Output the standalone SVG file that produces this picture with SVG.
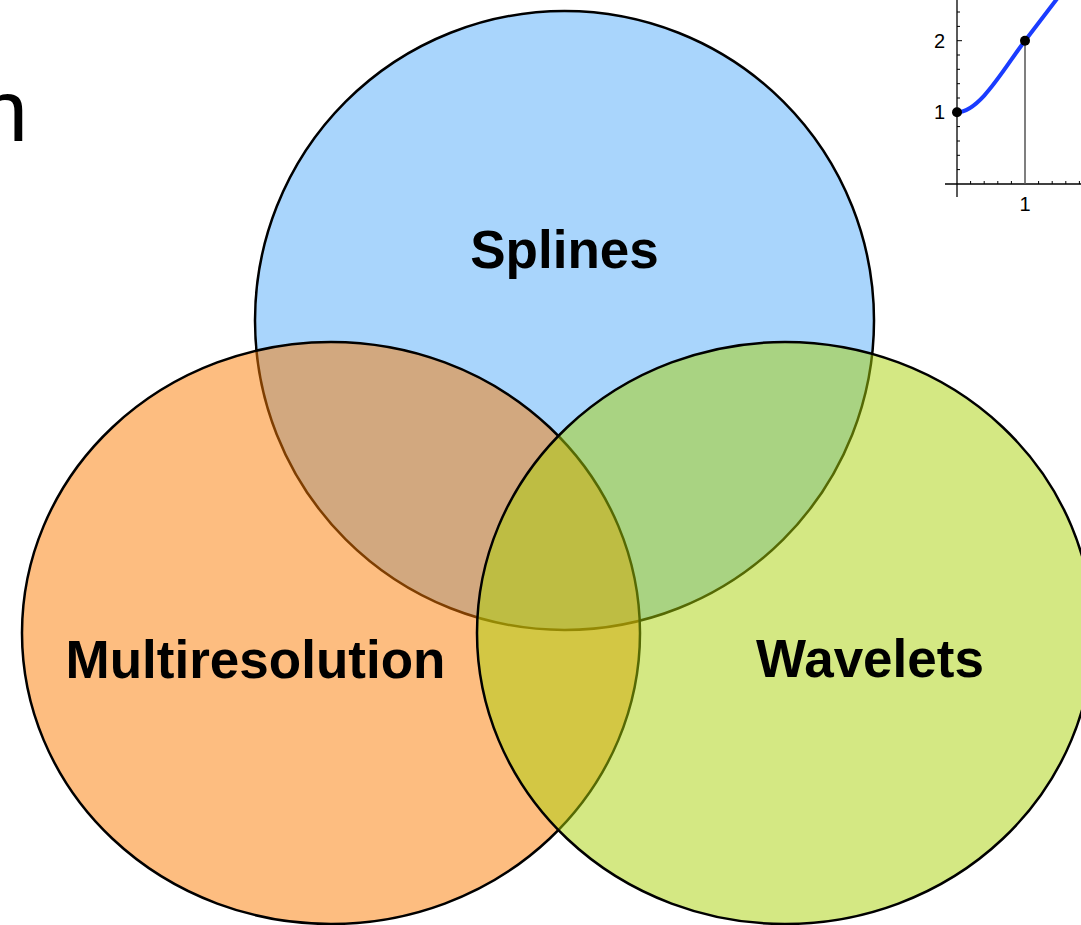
<svg xmlns="http://www.w3.org/2000/svg" width="1081" height="925" viewBox="0 0 1081 925">
  <style>
    .set { stroke: #000; stroke-width: 2.5; fill-opacity: 0.5; }
    .label { font-family: "Liberation Sans", Arial, Helvetica, sans-serif; font-weight: bold; font-size: 53px; fill: #000; text-anchor: middle; }
    .tick { font-family: "Liberation Sans", Arial, Helvetica, sans-serif; font-size: 20px; fill: #000; }
    .axis { stroke: #000; stroke-width: 1.3; fill: none; }
    .minor { stroke: #000; stroke-width: 1; }
  </style>
  <rect width="1081" height="925" fill="#fff"/>
  <text x="28" y="141" font-family="'Liberation Sans', Arial, sans-serif" font-size="88" text-anchor="end" fill="#000">n</text>

  <g id="plot">
    <line class="axis" x1="957" y1="0" x2="957" y2="197"/>
    <line class="axis" x1="945" y1="184" x2="1081" y2="184"/>
    <g class="minor">
      <line x1="957" y1="12" x2="960" y2="12"/>
      <line x1="957" y1="26.4" x2="960" y2="26.4"/>
      <line x1="957" y1="40.7" x2="962" y2="40.7"/>
      <line x1="957" y1="55" x2="960" y2="55"/>
      <line x1="957" y1="69.3" x2="960" y2="69.3"/>
      <line x1="957" y1="83.7" x2="960" y2="83.7"/>
      <line x1="957" y1="98" x2="960" y2="98"/>
      <line x1="957" y1="112.3" x2="962" y2="112.3"/>
      <line x1="957" y1="126.6" x2="960" y2="126.6"/>
      <line x1="957" y1="141" x2="960" y2="141"/>
      <line x1="957" y1="155.3" x2="960" y2="155.3"/>
      <line x1="957" y1="169.6" x2="960" y2="169.6"/>
      <line x1="970.6" y1="184" x2="970.6" y2="181"/>
      <line x1="984.2" y1="184" x2="984.2" y2="181"/>
      <line x1="997.8" y1="184" x2="997.8" y2="181"/>
      <line x1="1011.4" y1="184" x2="1011.4" y2="181"/>
      <line x1="1038.6" y1="184" x2="1038.6" y2="181"/>
      <line x1="1052.2" y1="184" x2="1052.2" y2="181"/>
      <line x1="1065.8" y1="184" x2="1065.8" y2="181"/>
      <line x1="1079.4" y1="184" x2="1079.4" y2="181"/>
    </g>
    <line x1="1025" y1="40.7" x2="1025" y2="184" stroke="#555" stroke-width="1.5"/>
    <path d="M957,112.3 C980,112.3 1005,66.7 1025,40.7 L1058,-2.5" fill="none" stroke="#1a3cff" stroke-width="4"/>
    <circle cx="957" cy="112.3" r="5" fill="#000"/>
    <circle cx="1025" cy="40.7" r="5" fill="#000"/>
    <text class="tick" x="945" y="48" text-anchor="end">2</text>
    <text class="tick" x="945" y="119" text-anchor="end">1</text>
    <text class="tick" x="1025" y="211" text-anchor="middle">1</text>
  </g>

  <g id="splines">
    <ellipse class="set" cx="564.5" cy="320.5" rx="309.5" ry="309.5" fill="#53abf9"/>
  </g>
  <g id="multiresolution">
    <ellipse class="set" cx="331" cy="633" rx="309" ry="291" fill="#fb7b01"/>
  </g>
  <g id="wavelets">
    <ellipse class="set" cx="785" cy="633" rx="308" ry="291" fill="#a9d107"/>
  </g>

  <g id="labels">
    <text class="label" x="564.5" y="268">Splines</text>
    <text class="label" x="255.5" y="678">Multiresolution</text>
    <text class="label" x="870" y="677">Wavelets</text>
  </g>
</svg>
